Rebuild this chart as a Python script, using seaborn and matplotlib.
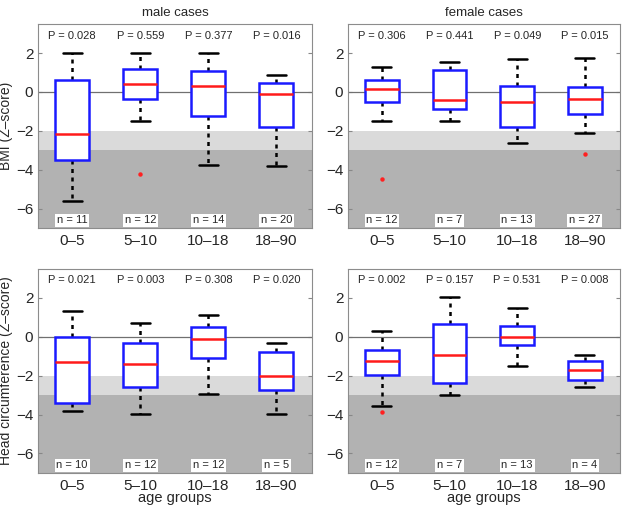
import numpy as np
import pandas as pd
import seaborn as sns
import matplotlib
matplotlib.use("Agg")
import matplotlib.pyplot as plt

# age groups on the x axis
groups = ["0–5", "5–10", "10–18", "18–90"]

# BMI, male cases (whisker low, q1, median, q3, whisker high)
bmi_m_lo = [-5.6, -1.49, -3.74, -3.79]
bmi_m_q1 = [-3.49, -0.38, -1.26, -1.81]
bmi_m_med = [-2.17, 0.43, 0.29, -0.09]
bmi_m_q3 = [0.59, 1.16, 1.08, 0.46]
bmi_m_hi = [2.0, 2.02, 1.98, 0.87]
bmi_m_out = {"5–10": [-4.2]}
bmi_m_p = ["0.028", "0.559", "0.377", "0.016"]
bmi_m_n = [11, 12, 14, 20]

# BMI, female cases
bmi_f_lo = [-1.51, -1.51, -2.6, -2.12]
bmi_f_q1 = [-0.5, -0.86, -1.78, -1.11]
bmi_f_med = [0.17, -0.39, -0.51, -0.38]
bmi_f_q3 = [0.6, 1.13, 0.29, 0.27]
bmi_f_hi = [1.28, 1.52, 1.7, 1.76]
bmi_f_out = {"0–5": [-4.5], "18–90": [-3.2]}
bmi_f_p = ["0.306", "0.441", "0.049", "0.015"]
bmi_f_n = [12, 7, 13, 27]

# head circumference, male cases
hc_m_lo = [-3.84, -3.96, -2.96, -3.96]
hc_m_q1 = [-3.42, -2.57, -1.11, -2.74]
hc_m_med = [-1.32, -1.39, -0.12, -1.99]
hc_m_q3 = [0.0, -0.31, 0.48, -0.79]
hc_m_hi = [1.32, 0.70, 1.11, -0.31]
hc_m_out = {}
hc_m_p = ["0.021", "0.003", "0.308", "0.020"]
hc_m_n = [10, 12, 12, 5]

# head circumference, female cases
hc_f_lo = [-3.57, -2.97, -1.5, -2.58]
hc_f_q1 = [-1.96, -2.37, -0.43, -2.24]
hc_f_med = [-1.26, -0.92, 0.0, -1.69]
hc_f_q3 = [-0.68, 0.68, 0.53, -1.23]
hc_f_hi = [0.31, 2.03, 1.48, -0.92]
hc_f_out = {"0–5": [-3.89]}
hc_f_p = ["0.002", "0.157", "0.531", "0.008"]
hc_f_n = [12, 7, 13, 4]

panels = [
    (bmi_m_lo, bmi_m_q1, bmi_m_med, bmi_m_q3, bmi_m_hi, bmi_m_out, bmi_m_p, bmi_m_n),
    (bmi_f_lo, bmi_f_q1, bmi_f_med, bmi_f_q3, bmi_f_hi, bmi_f_out, bmi_f_p, bmi_f_n),
    (hc_m_lo, hc_m_q1, hc_m_med, hc_m_q3, hc_m_hi, hc_m_out, hc_m_p, hc_m_n),
    (hc_f_lo, hc_f_q1, hc_f_med, hc_f_q3, hc_f_hi, hc_f_out, hc_f_p, hc_f_n),
]

sns.set_style("white")
plt.rcParams["font.family"] = ["Liberation Sans", "DejaVu Sans"]

fig = plt.figure(figsize=(6.25, 5.08), dpi=100)
rects = [
    [0.061, 0.551, 0.438, 0.402],
    [0.557, 0.551, 0.435, 0.402],
    [0.061, 0.069, 0.438, 0.402],
    [0.557, 0.069, 0.435, 0.402],
]

for i, (lo, q1, med, q3, hi, outl, pv, ns) in enumerate(panels):
    ax = fig.add_axes(rects[i])
    # five values per group -> quartiles land exactly on q1/med/q3
    rows = []
    for g, a, b, c, d, e in zip(groups, lo, q1, med, q3, hi):
        for v in (a, b, c, d, e):
            rows.append({"group": g, "z": v})
    df = pd.DataFrame(rows)

    ax.axhspan(-3, -2, color="#dadada", zorder=0, lw=0)
    ax.axhspan(-7, -3, color="#b2b2b2", zorder=0, lw=0)
    ax.axhline(0, color="#707070", lw=0.9, zorder=1)

    sns.boxplot(data=df, x="group", y="z", order=groups, ax=ax,
                whis=(0, 100), width=0.5, showfliers=False,
                color="white", linewidth=1.8,
                boxprops=dict(edgecolor="#1a1aff", zorder=3),
                medianprops=dict(color="#ff1a1a", lw=1.8, zorder=4),
                whiskerprops=dict(color="black", linestyle=(0, (1.6, 1.8)), lw=1.8),
                capprops=dict(color="black", lw=1.8),
                capwidths=0.28)

    if outl:
        od = pd.DataFrame([{"group": g, "z": v} for g, vals in outl.items() for v in vals])
        sns.stripplot(data=od, x="group", y="z", order=groups, ax=ax,
                      jitter=False, color="#ff2020", size=3.2, marker="o",
                      linewidth=0, zorder=5)

    for k, (p, n) in enumerate(zip(pv, ns)):
        ax.text(k, 2.9, f"P = {p}", ha="center", va="center", fontsize=8)
        ax.text(k, -6.6, f"n = {n}", ha="center", va="center", fontsize=8,
                bbox=dict(facecolor="white", edgecolor="none", pad=1.2))

    ax.set_xlim(-0.5, 3.52)
    ax.set_ylim(-7, 3.5)
    ax.set_yticks([-6, -4, -2, 0, 2])
    ax.set_yticklabels(["−6", "−4", "−2", "0", "2"])
    ax.tick_params(axis="both", direction="in", length=3, labelsize=11,
                   color="#888888", right=True, left=True, top=False, bottom=False)
    ax.tick_params(axis="x", pad=4)
    for s in ax.spines.values():
        s.set_color("#8c8c8c")
        s.set_linewidth(0.8)
    ax.set_xlabel("age groups" if i >= 2 else "", fontsize=10.5, labelpad=-1)
    if i == 0:
        ax.set_ylabel("BMI (Z–score)", fontsize=10, labelpad=2)
    elif i == 2:
        ax.set_ylabel("Head circumference (Z–score)", fontsize=10, labelpad=2)
    else:
        ax.set_ylabel("")
    if i == 0:
        ax.set_title("male cases", fontsize=9.5, pad=6)
    elif i == 1:
        ax.set_title("female cases", fontsize=9.5, pad=6)

fig.savefig("out.png", dpi=100)
